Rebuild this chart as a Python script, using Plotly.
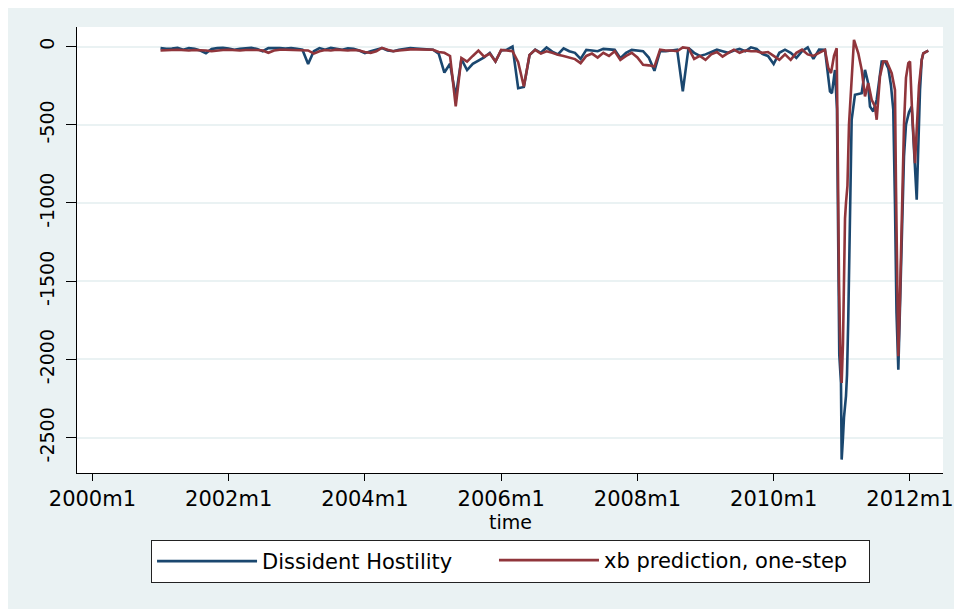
import plotly.graph_objects as go

# ---- data (time = months since 2000m1) ----
months = list(range(12, 129))

hostility_monthly = [
    -10, -15, -12, -8, -20, -10, -15, -25, -42, -15,
    -10, -8, -12, -20, -15, -10, -8, -15, -30, -10,
    -8, -10, -12, -10, -15, -20, -112, -30, -10, -20,
    -8, -15, -20, -12, -15, -25, -42, -30, -20, -10,
    -25, -30, -20, -15, -10, -12, -15, -20,
    -20, -45, -166, -110, -320, -80, -150, -110, -90, -70,
    -40, -95, -25, -20, 0, -266, -258, -55, -20, -40,
    -6, -32, -50, -11, -30, -40, -79, -21, -25, -30,
    -15, -20, -21, -75, -40, -21, -25, -30, -70, -155,
    -30, -30, -25, -20, -287, -10, -40, -60, -50, -35,
    -20, -30, -40, -25, -15, -30, -5, -15, -47, -60,
    -112, -40, -20, -40, -72, -30, -5, -79, -20,
]

prediction_monthly = [
    -25, -25, -22, -20, -22, -25, -22, -22, -25, -30,
    -25, -22, -20, -22, -25, -22, -20, -22, -25, -40,
    -25, -20, -20, -22, -20, -22, -25, -45, -30, -22,
    -25, -20, -22, -25, -22, -25, -35, -40, -30, -8,
    -20, -30, -25, -20, -18, -18, -20, -22,
    -20, -35, -40, -60, -383, -73, -96, -60, -26, -64,
    -45, -96, -21, -25, -30, -100, -255, -53, -21, -45,
    -30, -40, -53, -60, -70, -80, -106, -60, -45, -70,
    -40, -60, -30, -85, -60, -40, -70, -117, -120, -128,
    -20, -25, -25, -30, -5, -10, -79, -60, -85, -50,
    -35, -64, -40, -20, -40, -25, -30, -30, -40, -35,
    -60, -85, -50, -85, -40, -20, -50, -60, -40,
]

hostility_tail_time = [
    129.04, 129.92, 130.27, 130.80, 131.15, 131.42, 131.56, 131.86, 131.98, 132.21,
    132.39, 132.74, 132.92, 133.14, 133.36, 133.53, 133.74, 134.32, 135.51, 136.09,
    136.62, 136.97, 137.55, 138.15, 139.03, 139.61, 140.19, 140.67, 141.07, 141.37,
    141.64, 141.96, 142.26, 142.61, 142.96, 143.31, 143.84, 144.32, 144.72, 145.20,
    145.43, 145.78, 146.08, 146.36, 147.24,
]
hostility_tail = [
    -21, -287, -298, -150, -400, -1300, -1970, -2150, -2640, -2500,
    -2370, -2235, -2100, -1745, -1200, -700, -468, -308, -298, -149,
    -230, -383, -415, -340, -96, -96, -138, -250, -404, -1000,
    -1700, -2065, -1700, -1200, -700, -500, -420, -383, -700, -979,
    -700, -277, -85, -43, -26,
]

prediction_tail_time = [
    129.04, 129.62, 130.10, 130.63, 131.10, 131.33, 131.51, 131.77, 131.98, 132.21,
    132.39, 132.57, 132.74, 133.00, 133.27, 133.62, 134.15, 134.91, 135.51, 136.09,
    136.67, 137.27, 137.85, 138.15, 138.73, 139.31, 139.91, 140.79, 141.37, 141.55,
    141.72, 141.96, 142.26, 142.61, 142.96, 143.31, 143.72, 144.02, 144.37, 144.90,
    145.25, 145.60, 146.08, 146.36, 147.24,
]
prediction_tail = [
    -21, -136, -170, -60, -11, -800, -1500, -2000, -2150, -1900,
    -1300, -1100, -1000, -890, -500, -300, 43, -43, -149, -319,
    -234, -340, -383, -468, -191, -96, -96, -170, -277, -900,
    -1500, -1980, -1600, -1000, -500, -200, -106, -96, -400, -745,
    -500, -250, -85, -43, -26,
]

x_tick_vals = [0, 24, 48, 72, 96, 120, 144]
x_tick_text = ["2000m1", "2002m1", "2004m1", "2006m1", "2008m1", "2010m1", "2012m1"]
y_tick_vals = [0, -500, -1000, -1500, -2000, -2500]
y_tick_text = ["0", "-500", "-1000", "-1500", "-2000", "-2500"]

series_names = ["Dissident Hostility", "xb prediction, one-step"]
x_title = "time"

# ---- style ----
BLUE = "#1A476F"
RED = "#90353B"
BG = "#EAF2F3"
FONT = "DejaVu Sans"

fig = go.Figure()
fig.add_trace(go.Scatter(
    x=months + hostility_tail_time, y=hostility_monthly + hostility_tail,
    mode="lines", name=series_names[0],
    line=dict(color=BLUE, width=2.6),
    legend="legend",
))
fig.add_trace(go.Scatter(
    x=months + prediction_tail_time, y=prediction_monthly + prediction_tail,
    mode="lines", name=series_names[1],
    line=dict(color=RED, width=2.6),
    legend="legend2",
))

legend_font = dict(family=FONT, size=21, color="black")

fig.update_layout(
    width=962, height=609,
    margin=dict(l=69, r=27, t=19, b=144),
    paper_bgcolor=BG,
    plot_bgcolor="white",
    font=dict(family=FONT, size=20, color="black"),
    showlegend=True,
    legend=dict(
        orientation="h",
        x=0.0855, y=-0.1502, xanchor="left", yanchor="top",
        bgcolor="white", bordercolor="#222222", borderwidth=1,
        font=legend_font,
        itemwidth=100,
        entrywidth=602,
    ),
    legend2=dict(
        orientation="h",
        x=0.4815, y=-0.1502, xanchor="left", yanchor="top",
        bgcolor="rgba(0,0,0,0)", borderwidth=0,
        font=legend_font,
        itemwidth=100,
    ),
    annotations=[
        dict(text=x_title, xref="paper", yref="paper", x=0.5, y=-0.1105,
             xanchor="center", yanchor="middle", showarrow=False,
             font=dict(family=FONT, size=19, color="black")),
    ],
)

fig.update_xaxes(
    range=[-2.71, 149.83],
    tickvals=x_tick_vals, ticktext=x_tick_text,
    ticks="outside", ticklen=7, tickcolor="black", tickwidth=1,
    showline=True, linecolor="black", linewidth=1,
    showgrid=False, zeroline=False,
    tickfont=dict(family=FONT, size=21, color="black"),
)
fig.update_yaxes(
    range=[-2726, 125],
    tickvals=y_tick_vals, ticktext=y_tick_text,
    tickangle=-90,
    ticks="outside", ticklen=10, tickcolor="black", tickwidth=1,
    ticklabelstandoff=4,
    showline=True, linecolor="black", linewidth=1,
    showgrid=True, gridcolor=BG, gridwidth=2,
    zeroline=False,
    tickfont=dict(family=FONT, size=19, color="black"),
)

fig.write_html("out.html")
